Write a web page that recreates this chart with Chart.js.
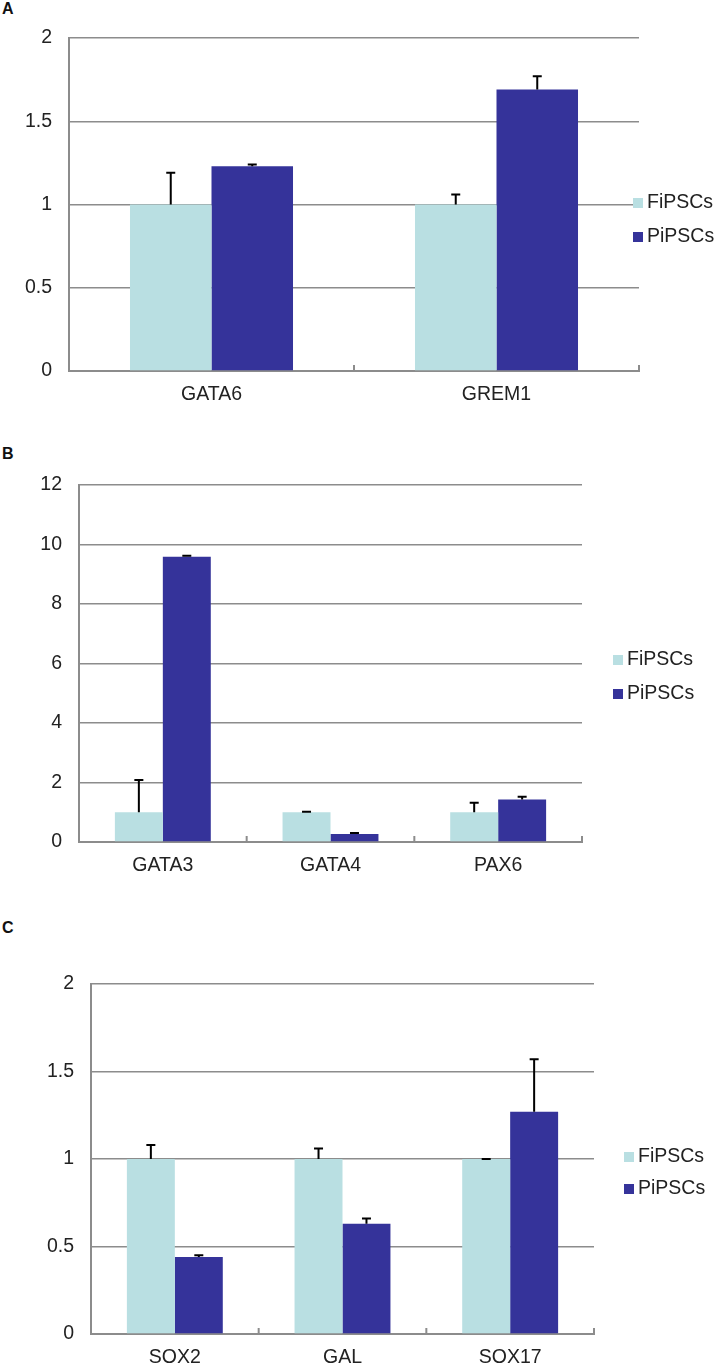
<!DOCTYPE html>
<html>
<head>
<meta charset="utf-8">
<script src="https://cdn.jsdelivr.net/npm/chart.js@4"></script>
<style>
  body { margin:0; background:#fff; width:714px; height:1365px; position:relative; overflow:hidden;
         font-family:"Liberation Sans", Arial, sans-serif; }
  .panel { position:absolute; left:0; width:714px; }
  .letter { position:absolute; left:2px; font-weight:bold; font-size:16px; color:#111; }
  .leg { position:absolute; font-size:19.5px; color:#222; line-height:22px; white-space:nowrap; }
  .leg span { display:inline-block; width:10px; height:10px; margin-right:4px; vertical-align:0px; }
</style>
</head>
<body>
<div class="letter" style="top:0px">A</div>
<div class="letter" style="top:445px">B</div>
<div class="letter" style="top:919px">C</div>

<div class="panel" style="top:0px;height:415px"><canvas id="chartA"></canvas></div>
<div class="panel" style="top:440px;height:440px"><canvas id="chartB"></canvas></div>
<div class="panel" style="top:900px;height:465px"><canvas id="chartC"></canvas></div>

<script>
// series names + colours
const seriesNames = ['FiPSCs', 'PiPSCs']
const seriesColors = ['#B9DFE2', '#35339A']

// panel A
const catsA = ['GATA6', 'GREM1']
const fiA = [1, 1]
const piA = [1.23, 1.69]
const fiErrA = [0.19, 0.06]
const piErrA = [0.01, 0.08]
const ticksA = [0, 0.5, 1, 1.5, 2]

// panel B
const catsB = ['GATA3', 'GATA4', 'PAX6']
const fiB = [1, 1, 1]
const piB = [9.59, 0.27, 1.43]
const fiErrB = [1.08, 0.02, 0.32]
const piErrB = [0.03, 0.03, 0.09]
const ticksB = [0, 2, 4, 6, 8, 10, 12]

// panel C
const catsC = ['SOX2', 'GAL', 'SOX17']
const fiC = [1, 1, 1]
const piC = [0.44, 0.63, 1.27]
const fiErrC = [0.08, 0.06, 0.0]
const piErrC = [0.01, 0.03, 0.30]
const ticksC = [0, 0.5, 1, 1.5, 2]

Chart.defaults.font.family = '"Liberation Sans", Arial, sans-serif'
Chart.defaults.color = '#222'

// one-sided error bars (upwards only)
const errorBars = {
  id: 'errorBars',
  afterDatasetsDraw(chart) {
    const ctx = chart.ctx
    const y = chart.scales.y
    chart.data.datasets.forEach((ds, di) => {
      const meta = chart.getDatasetMeta(di)
      meta.data.forEach((bar, i) => {
        const top = y.getPixelForValue(ds.data[i] + ds.errors[i])
        ctx.save()
        ctx.strokeStyle = '#000'
        ctx.lineWidth = 2
        ctx.beginPath()
        ctx.moveTo(bar.x, bar.y)
        ctx.lineTo(bar.x, top)
        ctx.moveTo(bar.x - 4.5, top)
        ctx.lineTo(bar.x + 4.5, top)
        ctx.stroke()
        ctx.restore()
      })
    })
  }
}

// small inward ticks between categories
const innerTicks = {
  id: 'innerTicks',
  beforeDatasetsDraw(chart) {
    const x = chart.scales.x
    const n = chart.data.labels.length
    const step = x.getPixelForValue(1) - x.getPixelForValue(0)
    const bottom = chart.chartArea.bottom
    const ctx = chart.ctx
    ctx.save()
    ctx.strokeStyle = '#8c8c8c'
    ctx.lineWidth = 2
    for (let i = 0; i < n; i++) {
      const px = x.getPixelForValue(i) + step / 2
      ctx.beginPath()
      ctx.moveTo(px, bottom)
      ctx.lineTo(px, bottom - 6)
      ctx.stroke()
    }
    ctx.restore()
  }
}

function makeChart(id, cats, fi, pi, fiErr, piErr, ticks, box) {
  const canvas = document.getElementById(id)
  canvas.width = 714
  canvas.height = box.h
  canvas.style.width = '714px'
  canvas.style.height = box.h + 'px'
  return new Chart(canvas, {
    type: 'bar',
    data: {
      labels: cats,
      datasets: [
        { label: seriesNames[0], data: fi, errors: fiErr, backgroundColor: seriesColors[0] },
        { label: seriesNames[1], data: pi, errors: piErr, backgroundColor: seriesColors[1] }
      ]
    },
    options: {
      responsive: false,
      animation: false,
      devicePixelRatio: 1,
      layout: { padding: { left: 0, top: box.top, right: 714 - box.right, bottom: 0 } },
      datasets: { bar: { categoryPercentage: 0.572, barPercentage: 1.0 } },
      plugins: { legend: { display: false }, tooltip: { enabled: false } },
      scales: {
        x: {
          grid: { display: false, drawTicks: false },
          border: { display: true, color: '#8c8c8c', width: 2 },
          ticks: { font: { size: 19.5 }, color: '#222', padding: 12 },
          afterFit(s) { s.height = box.h - box.bottom }
        },
        y: {
          min: ticks[0],
          max: ticks[ticks.length - 1],
          afterBuildTicks(s) { s.ticks = ticks.map(v => ({ value: v })) },
          grid: { color: '#8c8c8c', lineWidth: 1.5, drawTicks: false },
          border: { display: true, color: '#8c8c8c', width: 2 },
          ticks: { font: { size: 19.5 }, color: '#222', padding: 17, callback: v => String(v) },
          afterFit(s) { s.width = box.left }
        }
      }
    },
    plugins: [innerTicks, errorBars]
  })
}

function makeLegend(top, left, gap) {
  seriesNames.forEach((name, i) => {
    const d = document.createElement('div')
    d.className = 'leg'
    d.style.top = (top + i * gap - 11) + 'px'
    d.style.left = left + 'px'
    d.innerHTML = '<span style="background:' + seriesColors[i] + '"></span>' + name
    document.body.appendChild(d)
  })
}

makeChart('chartA', catsA, fiA, piA, fiErrA, piErrA, ticksA, { h: 415, top: 38, bottom: 371, left: 69, right: 639 })
makeChart('chartB', catsB, fiB, piB, fiErrB, piErrB, ticksB, { h: 440, top: 45, bottom: 402, left: 79, right: 582 })
makeChart('chartC', catsC, fiC, piC, fiErrC, piErrC, ticksC, { h: 465, top: 84, bottom: 434, left: 91, right: 594 })

makeLegend(201, 633, 34)
makeLegend(658, 613, 34)
makeLegend(1155, 624, 32)
</script>
</body>
</html>
